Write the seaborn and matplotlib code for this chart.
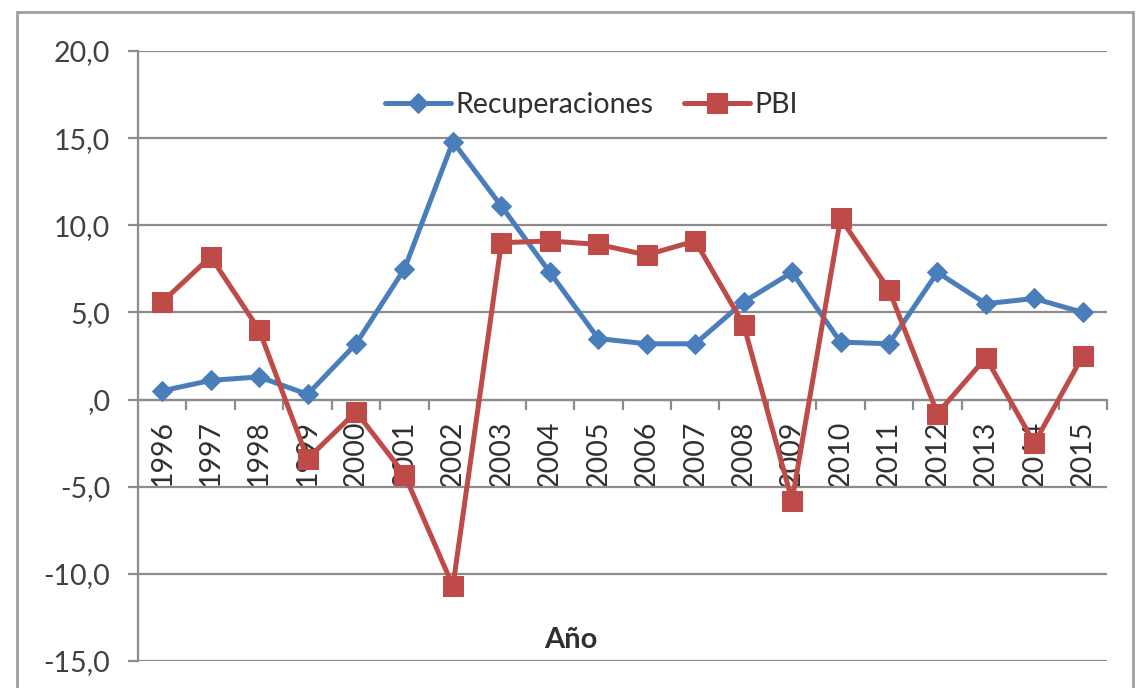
import pandas as pd
import matplotlib.pyplot as plt
import seaborn as sns
from matplotlib.ticker import FixedLocator, FuncFormatter, MultipleLocator
from matplotlib.patches import Rectangle

# Datos
anios = ['1996', '1997', '1998', '1999', '2000', '2001', '2002', '2003', '2004', '2005',
         '2006', '2007', '2008', '2009', '2010', '2011', '2012', '2013', '2014', '2015']
recuperaciones = [0.5, 1.1, 1.3, 0.3, 3.2, 7.5, 14.8, 11.1, 7.3, 3.5,
                  3.2, 3.2, 5.6, 7.3, 3.3, 3.2, 7.3, 5.5, 5.8, 5.0]
pbi = [5.6, 8.2, 4.0, -3.4, -0.7, -4.3, -10.7, 9.0, 9.1, 8.9,
       8.3, 9.1, 4.3, -5.8, 10.4, 6.3, -0.8, 2.4, -2.5, 2.5]

azul = '#4A7EBB'
rojo = '#BE4B48'
gris = '#8C8C8C'

sns.set_style('white')
plt.rcParams['font.family'] = ['Lato', 'DejaVu Sans']

dados = pd.DataFrame({'pos': range(len(anios)), 'Recuperaciones': recuperaciones, 'PBI': pbi})

fig = plt.figure(figsize=(11.36, 6.88), dpi=100)
ax = fig.add_axes([138 / 1136, 1 - 661 / 688, (1107 - 138) / 1136, (661 - 51) / 688])

# marco exterior
fig.patches.append(Rectangle((17 / 1136, -0.05), (1133 - 17) / 1136, 1.05 - 12 / 688,
                             transform=fig.transFigure, fill=False, edgecolor='#A0A0A0',
                             linewidth=2))

sns.lineplot(data=dados, x='pos', y='Recuperaciones', ax=ax, color=azul, linewidth=3.6,
             marker='D', markersize=10, markeredgecolor=azul, label='Recuperaciones', zorder=3)
sns.lineplot(data=dados, x='pos', y='PBI', ax=ax, color=rojo, linewidth=3.6,
             marker='s', markersize=15, markeredgecolor=rojo, label='PBI', zorder=3)

ax.set_xlim(-0.5, len(anios) - 0.5)
ax.set_ylim(-15, 20)

# eje y
ax.yaxis.set_major_locator(MultipleLocator(5))
ax.yaxis.set_major_formatter(FuncFormatter(
    lambda v, p: ',0' if abs(v) < 1e-9 else f'{v:.1f}'.replace('.', ',')))
ax.grid(axis='y', color=gris, linewidth=1.6)
ax.grid(axis='x', visible=False)
ax.tick_params(axis='y', length=7, width=1.6, color=gris, labelsize=20.5,
               labelcolor='#404040', pad=13, left=True)

# eje x en cero
for lado in ['top', 'right']:
    ax.spines[lado].set_visible(False)
ax.spines['left'].set_color(gris)
ax.spines['left'].set_linewidth(1.6)
ax.spines['bottom'].set_position(('data', 0))
ax.spines['bottom'].set_color(gris)
ax.spines['bottom'].set_linewidth(1.6)

ax.set_xticks(range(len(anios)))
ax.set_xticklabels(anios, rotation=90)
ax.xaxis.set_minor_locator(FixedLocator([i + 0.5 for i in range(len(anios))]))
ax.tick_params(axis='x', which='major', length=0, labelsize=20.5, labelcolor='#303030', pad=15)
ax.tick_params(axis='x', which='minor', length=7, width=1.6, color=gris, bottom=True)
for lbl in ax.get_xticklabels():
    lbl.set_verticalalignment('top')

ax.set_xlabel('')
ax.set_ylabel('')
ax.text(0.447, 0.035, 'Año', transform=ax.transAxes, ha='center', va='center',
        fontsize=21, fontweight='bold', color='#303030')

ax.legend(loc='upper center', bbox_to_anchor=(0.468, 0.975), ncol=2, frameon=False,
          fontsize=20.5, handlelength=2.3, handletextpad=0.15, columnspacing=1.1,
          labelcolor='#303030')

plt.savefig('out.png', dpi=100)
